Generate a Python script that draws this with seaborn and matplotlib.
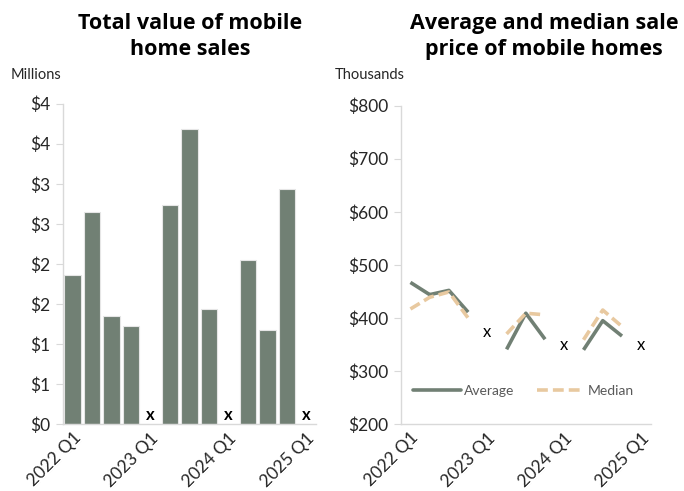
import numpy as np
import pandas as pd
import matplotlib
matplotlib.use("Agg")
import matplotlib.pyplot as plt
import seaborn as sns
from matplotlib.ticker import FuncFormatter
from matplotlib.lines import Line2D

# quarters 2022 Q1 .. 2025 Q1 (x = value suppressed)
quarters = ["2022 Q1", "2022 Q2", "2022 Q3", "2022 Q4",
            "2023 Q1", "2023 Q2", "2023 Q3", "2023 Q4",
            "2024 Q1", "2024 Q2", "2024 Q3", "2024 Q4",
            "2025 Q1"]
tick_quarters = ["2022 Q1", "2023 Q1", "2024 Q1", "2025 Q1"]

# total value of sales, millions
total_value = [1.86, 2.65, 1.35, 1.23, np.nan, 2.74, 3.68, 1.44, np.nan, 2.05, 1.18, 2.94, np.nan]
# average / median sale price, thousands
average_price = [467, 444, 452, 411, np.nan, 341, 409, 360, np.nan, 340, 395, 366, np.nan]
median_price = [417, 439, 449, 400, np.nan, 370, 409, 406, np.nan, 359, 415, 384, np.nan]
# where the "x" goes on the price chart
suppressed_price = [373, 349, 349]

bar_color = "#718074"
median_color = "#E8C9A0"
grid_gray = "#D9D9D9"
text_gray = "#262626"
median_dash = (3, 1.4)

sns.set_style("white")
plt.rcParams["font.family"] = ["Lato", "DejaVu Sans"]

fig = plt.figure(figsize=(6.84, 4.91), dpi=100)
ax1 = fig.add_axes([0.092, 0.136, 0.370, 0.653])
ax2 = fig.add_axes([0.586, 0.136, 0.3655, 0.649])

pos = np.arange(len(quarters))
suppressed = [i for i, v in enumerate(total_value) if np.isnan(v)]

# --- left: bars
bars = pd.DataFrame({"quarter": quarters, "value": total_value})
sns.barplot(data=bars, x="quarter", y="value", order=quarters, color=bar_color,
            saturation=1, width=0.84, edgecolor="#E6E6E6", linewidth=0.8, ax=ax1)
for i in suppressed:
    ax1.text(i, 0.12, "x", ha="center", va="center", fontsize=12,
             fontweight="bold", color="black")
ax1.set_ylim(0, 4)
ax1.set_yticks(np.arange(0, 4.01, 0.5))
ax1.yaxis.set_major_formatter(FuncFormatter(lambda v, p: f"${int(np.floor(v + 0.5))}"))

# --- right: lines, broken at suppressed quarters
seg = np.cumsum(np.isnan(average_price))
lines = pd.concat([
    pd.DataFrame({"pos": pos, "price": average_price, "seg": seg, "series": "Average"}),
    pd.DataFrame({"pos": pos, "price": median_price, "seg": seg, "series": "Median"}),
]).dropna()
sns.lineplot(data=lines, x="pos", y="price", hue="series", style="series",
             units="seg", estimator=None, palette=[bar_color, median_color],
             dashes=[(1, 0), median_dash], linewidth=2.6, legend=False, ax=ax2)
for i, v in zip(suppressed, suppressed_price):
    ax2.text(i, v, "x", ha="center", va="center", fontsize=12, color="black")
ax2.set_ylim(200, 800)
ax2.set_yticks(np.arange(200, 801, 100))
ax2.yaxis.set_major_formatter(FuncFormatter(lambda v, p: f"${v:,.0f}"))

handles = [Line2D([], [], color=bar_color, lw=2.6),
           Line2D([], [], color=median_color, lw=2.6, ls=(0, median_dash))]
ax2.legend(handles, ["Average", "Median"], loc="center left", bbox_to_anchor=(0.0, 0.105),
           ncol=2, frameon=False, handlelength=3.4, columnspacing=1.6, handletextpad=0.25,
           labelcolor="#595959", prop={"size": 10})

for ax in (ax1, ax2):
    ax.set_xlim(-0.5, len(quarters) - 0.5)
    ax.set_xticks(np.arange(-0.5, len(quarters)), [""] * (len(quarters) + 1))
    ax.set_xticks([quarters.index(q) for q in tick_quarters], tick_quarters, minor=True)
    ax.tick_params(axis="x", which="major", length=5, color=grid_gray, direction="out")
    ax.tick_params(axis="x", which="minor", length=0, pad=4)
    for lab in ax.get_xticklabels(minor=True):
        lab.set_rotation(45)
        lab.set_ha("right")
        lab.set_rotation_mode("anchor")
        lab.set_fontsize(12.5)
        lab.set_color(text_gray)
    ax.tick_params(axis="y", length=5, color=grid_gray, labelsize=12.5, labelcolor=text_gray,
                   direction="out", left=True, pad=4)
    ax.set_xlabel("")
    ax.set_ylabel("")
    for s in ("top", "right"):
        ax.spines[s].set_visible(False)
    for s in ("left", "bottom"):
        ax.spines[s].set_color(grid_gray)
        ax.spines[s].set_linewidth(1)

title_font = {"family": ["Open Sans", "DejaVu Sans"], "weight": "bold", "size": 15.5}
fig.text(0.278, 0.926, "Total value of mobile\nhome sales", ha="center", va="center",
         color="black", linespacing=1.3, fontdict=title_font)
fig.text(0.795, 0.926, "Average and median sale\nprice of mobile homes", ha="center",
         va="center", color="black", linespacing=1.3, fontdict=title_font)
fig.text(0.015, 0.848, "Millions", ha="left", va="center", fontsize=10.5, color=text_gray)
fig.text(0.490, 0.848, "Thousands", ha="left", va="center", fontsize=10.5, color=text_gray)

fig.savefig("out.png", dpi=100)
